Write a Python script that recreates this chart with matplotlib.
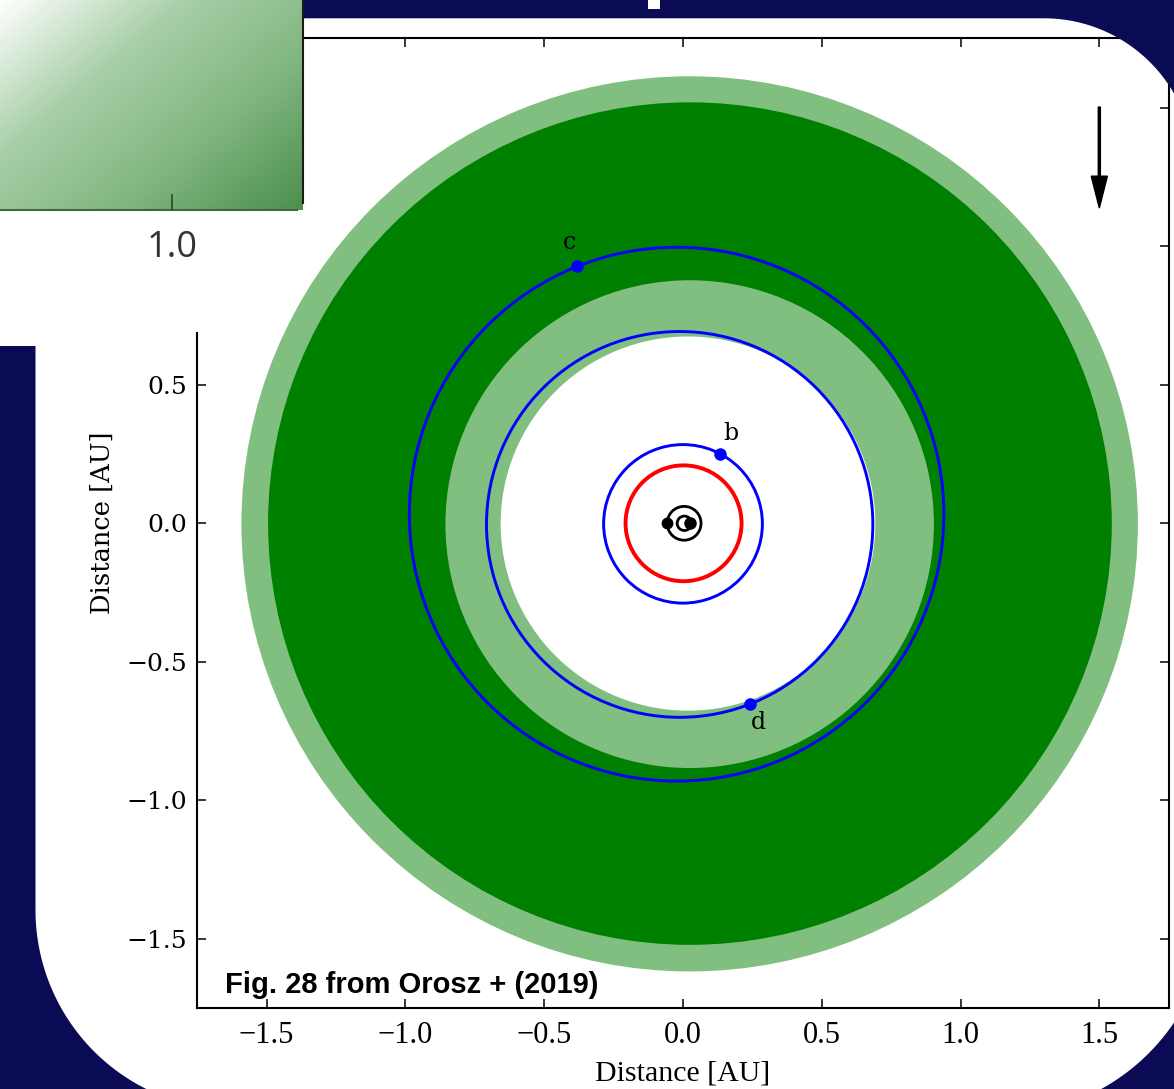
import numpy as np
import matplotlib
matplotlib.use("Agg")
import matplotlib.pyplot as plt
from matplotlib.patches import Circle, Polygon, Rectangle
from matplotlib.colors import LinearSegmentedColormap

# --- chart data (AU) ---
# habitable-zone discs, drawn outer to inner
zone_radius = [1.615, 1.52, 0.88, 0.675]
zone_cx = [0.024, 0.025, 0.024, 0.018]
zone_cy = [-0.002, -0.001, -0.003, -0.001]
zone_color = ["#80bf80", "#008000", "#80bf80", "white"]

# planet orbits and positions
planet_names = ["b", "c", "d"]
orbit_cx = [0.0, -0.023, -0.012]
orbit_cy = [-0.002, 0.033, -0.004]
orbit_r = [0.286, 0.963, 0.696]
planet_x = [0.1325, -0.383, 0.241]
planet_y = [0.2505, 0.927, -0.651]
label_x = [0.1725, -0.409, 0.273]
label_y = [0.299, 0.991, -0.7415]

# critical (stability) orbit
crit_center = (0.002, 0.0)
crit_r = 0.209

# binary stars
ring_cx = [0.005, 0.004]
ring_r = [0.026, 0.061]
star_x = [0.024, -0.057]
star_y = [0.0, 0.0]
star_size = [8.0, 7.5]

# direction arrow
arrow_x = 1.5
arrow_y0, arrow_y1 = 1.502, 1.1375

ticks = [-1.5, -1.0, -0.5, 0.0, 0.5, 1.0, 1.5]
# y labels above 0.5 sit under the pasted inset
ytick_shown = [True, True, True, True, True, False, False]

W, H = 1174, 1089
fig = plt.figure(figsize=(W / 100, H / 100), dpi=100, facecolor="white")

# main chart
ax = fig.add_axes([197.3 / W, (H - 1008.3) / H, 971.4 / W, 970 / H], zorder=1)
ax.set_xlim(-1.75, 1.75)
ax.set_ylim(-1.75, 1.75)

for r, cx, cy, c in zip(zone_radius, zone_cx, zone_cy, zone_color):
    ax.add_patch(Circle((cx, cy), r, facecolor=c, edgecolor="none", zorder=1))

ax.add_patch(Circle(crit_center, crit_r, fill=False, ec="red", lw=2.8, zorder=3))
for cx, cy, r in zip(orbit_cx, orbit_cy, orbit_r):
    ax.add_patch(Circle((cx, cy), r, fill=False, ec="blue", lw=2.1, zorder=3))
ax.plot(planet_x, planet_y, "o", color="blue", ms=8, zorder=4)
for name, lx, ly in zip(planet_names, label_x, label_y):
    ax.text(lx, ly, name, ha="center", va="baseline", fontsize=17,
            family="DejaVu Serif", zorder=5)

for cx, r in zip(ring_cx, ring_r):
    ax.add_patch(Circle((cx, 0.0), r, fill=False, ec="black", lw=2.0, zorder=4))
for sx, sy, ms in zip(star_x, star_y, star_size):
    ax.plot([sx], [sy], "o", color="black", ms=ms, zorder=5)

ax.arrow(arrow_x, arrow_y0, 0, arrow_y1 - arrow_y0, width=0.0075,
         head_width=0.058, head_length=0.115, length_includes_head=True,
         fc="black", ec="black", zorder=5)

ax.text(0.0285, 0.0158, "Fig. 28 from Orosz + (2019)", transform=ax.transAxes,
        ha="left", va="baseline", fontsize=21, fontweight="bold",
        family=["Liberation Sans", "DejaVu Sans"], zorder=6)

ax.set_xticks(ticks)
ax.set_yticks(ticks)
ax.set_xticklabels([f"{t:.1f}".replace("-", "\u2212") for t in ticks],
                   family="Liberation Serif", fontsize=22)
ax.set_yticklabels([f"{t:.1f}".replace("-", "\u2212") if s else ""
                    for t, s in zip(ticks, ytick_shown)],
                   family="DejaVu Serif", fontsize=18)
ax.tick_params(direction="in", length=6.5, width=1.1, top=True, right=True)
ax.tick_params(axis="x", pad=9.5)
ax.tick_params(axis="y", pad=7.2)
for s in ax.spines.values():
    s.set_linewidth(1.5)

ax.set_xlabel("Distance [AU]", family="Liberation Serif", fontsize=21.5)
ax.set_ylabel("Distance [AU]", family="DejaVu Serif", fontsize=18.5)
ax.xaxis.set_label_coords(0.5, -0.0533)
ax.yaxis.set_label_coords(-0.085, 0.501)

# slide frame drawn over the chart (pixel coordinates)
ov = fig.add_axes([0, 0, 1, 1], zorder=10)
navy = "#0b0b55"

# top band + top-right corner
t = np.radians(np.linspace(np.degrees(np.arccos(130 / 150)), 90, 60))
arc = np.column_stack([1044 + 150 * np.cos(t), 168.3 - 150 * np.sin(t)])
pts = np.vstack([[[0, 0], [W, 0]], arc, [[0, 18.3]]])
ov.add_patch(Polygon(pts, closed=True, fc=navy, ec="none"))

# left strip + bottom-left corner
t = np.radians(np.linspace(180, 180 - np.degrees(np.arcsin(179 / 200)), 60))
arc = np.column_stack([235.5 + 200 * np.cos(t), 910 + 200 * np.sin(t)])
pts = np.vstack([[[0, 346], [35.5, 346]], arc, [[0, H]]])
ov.add_patch(Polygon(pts, closed=True, fc=navy, ec="none"))

# bottom-right corner
t = np.radians(np.linspace(np.degrees(np.arccos(174 / 210)),
                           np.degrees(np.arcsin(184 / 210)), 60))
arc = np.column_stack([1000 + 210 * np.cos(t), 905 + 210 * np.sin(t)])
pts = np.vstack([arc, [[W, H]]])
ov.add_patch(Polygon(pts, closed=True, fc=navy, ec="none"))

# piece of a title letter at the top
ov.add_patch(Rectangle((648, 0), 12, 9, fc="white", ec="none"))

# inset of another slide element (top-left)
ov.add_patch(Rectangle((0, 0), 270, 332, fc="white", ec="none"))
gx, gy = np.meshgrid(np.arange(303), np.arange(210))
grad = (gx + 1.2 * gy) / (303 + 1.2 * 210)
cmap = LinearSegmentedColormap.from_list(
    "g", ["#ffffff", "#a8cfa8", "#80b680", "#4d8f4d"])
ov.imshow(grad, cmap=cmap, extent=(0, 303, 210, 0), aspect="auto",
          interpolation="bilinear", zorder=2)
ov.plot([303, 303], [0, 203], color="#1a1a1a", lw=1.5, zorder=3)
ov.plot([0, 297], [209.5, 209.5], color="#3f6a3f", lw=1.5, zorder=3)
ov.plot([172.3, 172.3], [195, 209], color="#2a3a2a", lw=1.1, zorder=3)
ov.text(172, 248, "1.0", ha="center", va="center", fontsize=26,
        color="#333333", family="Open Sans", zorder=3)

ov.set_xlim(0, W)
ov.set_ylim(H, 0)
ov.axis("off")

fig.savefig("out.png", dpi=100, facecolor="white")
